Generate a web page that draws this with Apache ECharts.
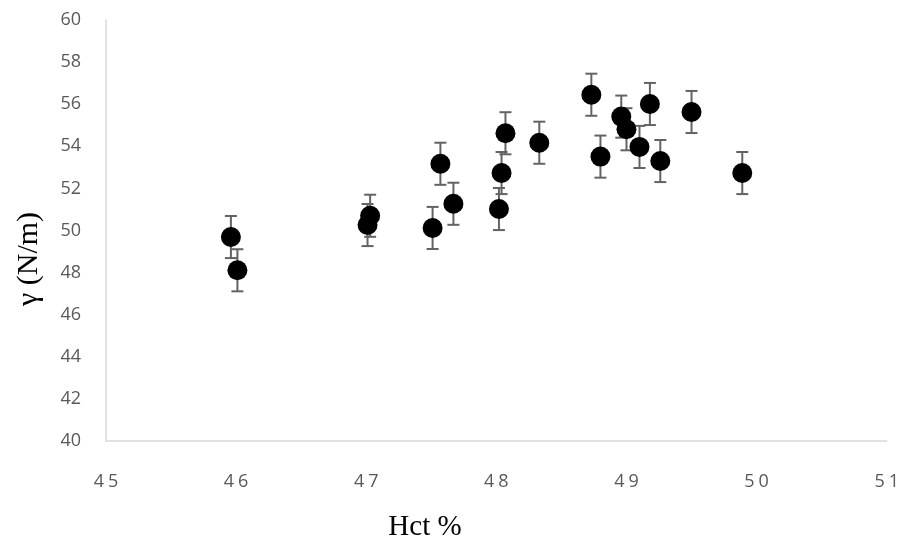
<!DOCTYPE html>
<html>
<head>
<meta charset="utf-8">
<script src="https://cdn.jsdelivr.net/npm/echarts@6/dist/echarts.min.js"></script>
<style>html,body{margin:0;padding:0;background:#fff;}#c{width:902px;height:543px;}</style>
</head>
<body>
<div id="c"></div>
<script>
var hct =   [45.96, 46.01, 47.01, 47.03, 47.51, 47.57, 47.67, 48.02, 48.04, 48.07, 48.33, 48.73, 48.80, 48.96, 49.00, 49.10, 49.18, 49.26, 49.50, 49.89];
var gamma = [49.69, 48.11, 50.26, 50.70, 50.12, 53.17, 51.27, 51.02, 52.73, 54.62, 54.17, 56.45, 53.51, 55.41, 54.81, 53.97, 56.01, 53.30, 55.63, 52.73];
var errs =  [1, 1, 1, 1, 1, 1, 1, 1, 1, 1, 1, 1, 1, 1, 1, 1, 1, 1, 1, 1];
var xTicks = [45, 46, 47, 48, 49, 50, 51];
var yTicks = [40, 42, 44, 46, 48, 50, 52, 54, 56, 58, 60];
var xTitle = 'Hct %';
var yTitle = 'γ (N/m)';

var pts = hct.map(function (x, i) { return [x, gamma[i]]; });
var errData = hct.map(function (x, i) { return [x, gamma[i] - errs[i], gamma[i] + errs[i]]; });

var chart = echarts.init(document.getElementById('c'), null, {renderer: 'canvas'});
chart.setOption({
  animation: false,
  backgroundColor: '#fff',
  grid: {left: 106, top: 20, right: 15, bottom: 102, containLabel: false},
  xAxis: {
    type: 'value', min: xTicks[0], max: xTicks[xTicks.length - 1], interval: 1,
    axisLine: {show: true, lineStyle: {color: '#d9d9d9', width: 1.5}},
    axisTick: {show: false},
    splitLine: {show: false},
    axisLabel: {
      margin: 32,
      formatter: function (v) {
        return String(v).split('').map(function (c) { return '{d|' + c + '}'; }).join('');
      },
      rich: {d: {fontFamily: 'Open Sans', fontSize: 18, color: '#595959', padding: [0, 2, 0, 2]}}
    }
  },
  yAxis: {
    type: 'value', min: yTicks[0], max: yTicks[yTicks.length - 1], interval: 2,
    axisLine: {show: true, lineStyle: {color: '#d9d9d9', width: 1.5}},
    axisTick: {show: false},
    splitLine: {show: false},
    axisLabel: {margin: 25, fontFamily: 'Open Sans', fontSize: 18, color: '#595959'}
  },
  graphic: [
    {type: 'text', x: 425, y: 527, z: 10,
     style: {text: xTitle, font: '29px "Liberation Serif", "Times New Roman", serif', fill: '#000', align: 'center', verticalAlign: 'middle'}},
    {type: 'text', x: 29, y: 259, rotation: Math.PI / 2, z: 10,
     style: {text: yTitle, font: '30px "Liberation Serif", "Times New Roman", serif', fill: '#000', align: 'center', verticalAlign: 'middle'}}
  ],
  series: [
    {
      type: 'custom',
      data: errData,
      z: 1,
      renderItem: function (params, api) {
        var x = api.value(0);
        var lo = api.coord([x, api.value(1)]);
        var hi = api.coord([x, api.value(2)]);
        var hw = 6;
        var st = {stroke: '#636363', lineWidth: 2};
        return {
          type: 'group',
          children: [
            {type: 'line', shape: {x1: lo[0], y1: lo[1], x2: hi[0], y2: hi[1]}, style: st},
            {type: 'line', shape: {x1: lo[0] - hw, y1: lo[1], x2: lo[0] + hw, y2: lo[1]}, style: st},
            {type: 'line', shape: {x1: hi[0] - hw, y1: hi[1], x2: hi[0] + hw, y2: hi[1]}, style: st}
          ]
        };
      }
    },
    {
      type: 'scatter',
      data: pts,
      z: 3,
      symbol: 'circle',
      symbolSize: 20,
      itemStyle: {color: '#000', opacity: 1}
    }
  ]
});
</script>
</body>
</html>
